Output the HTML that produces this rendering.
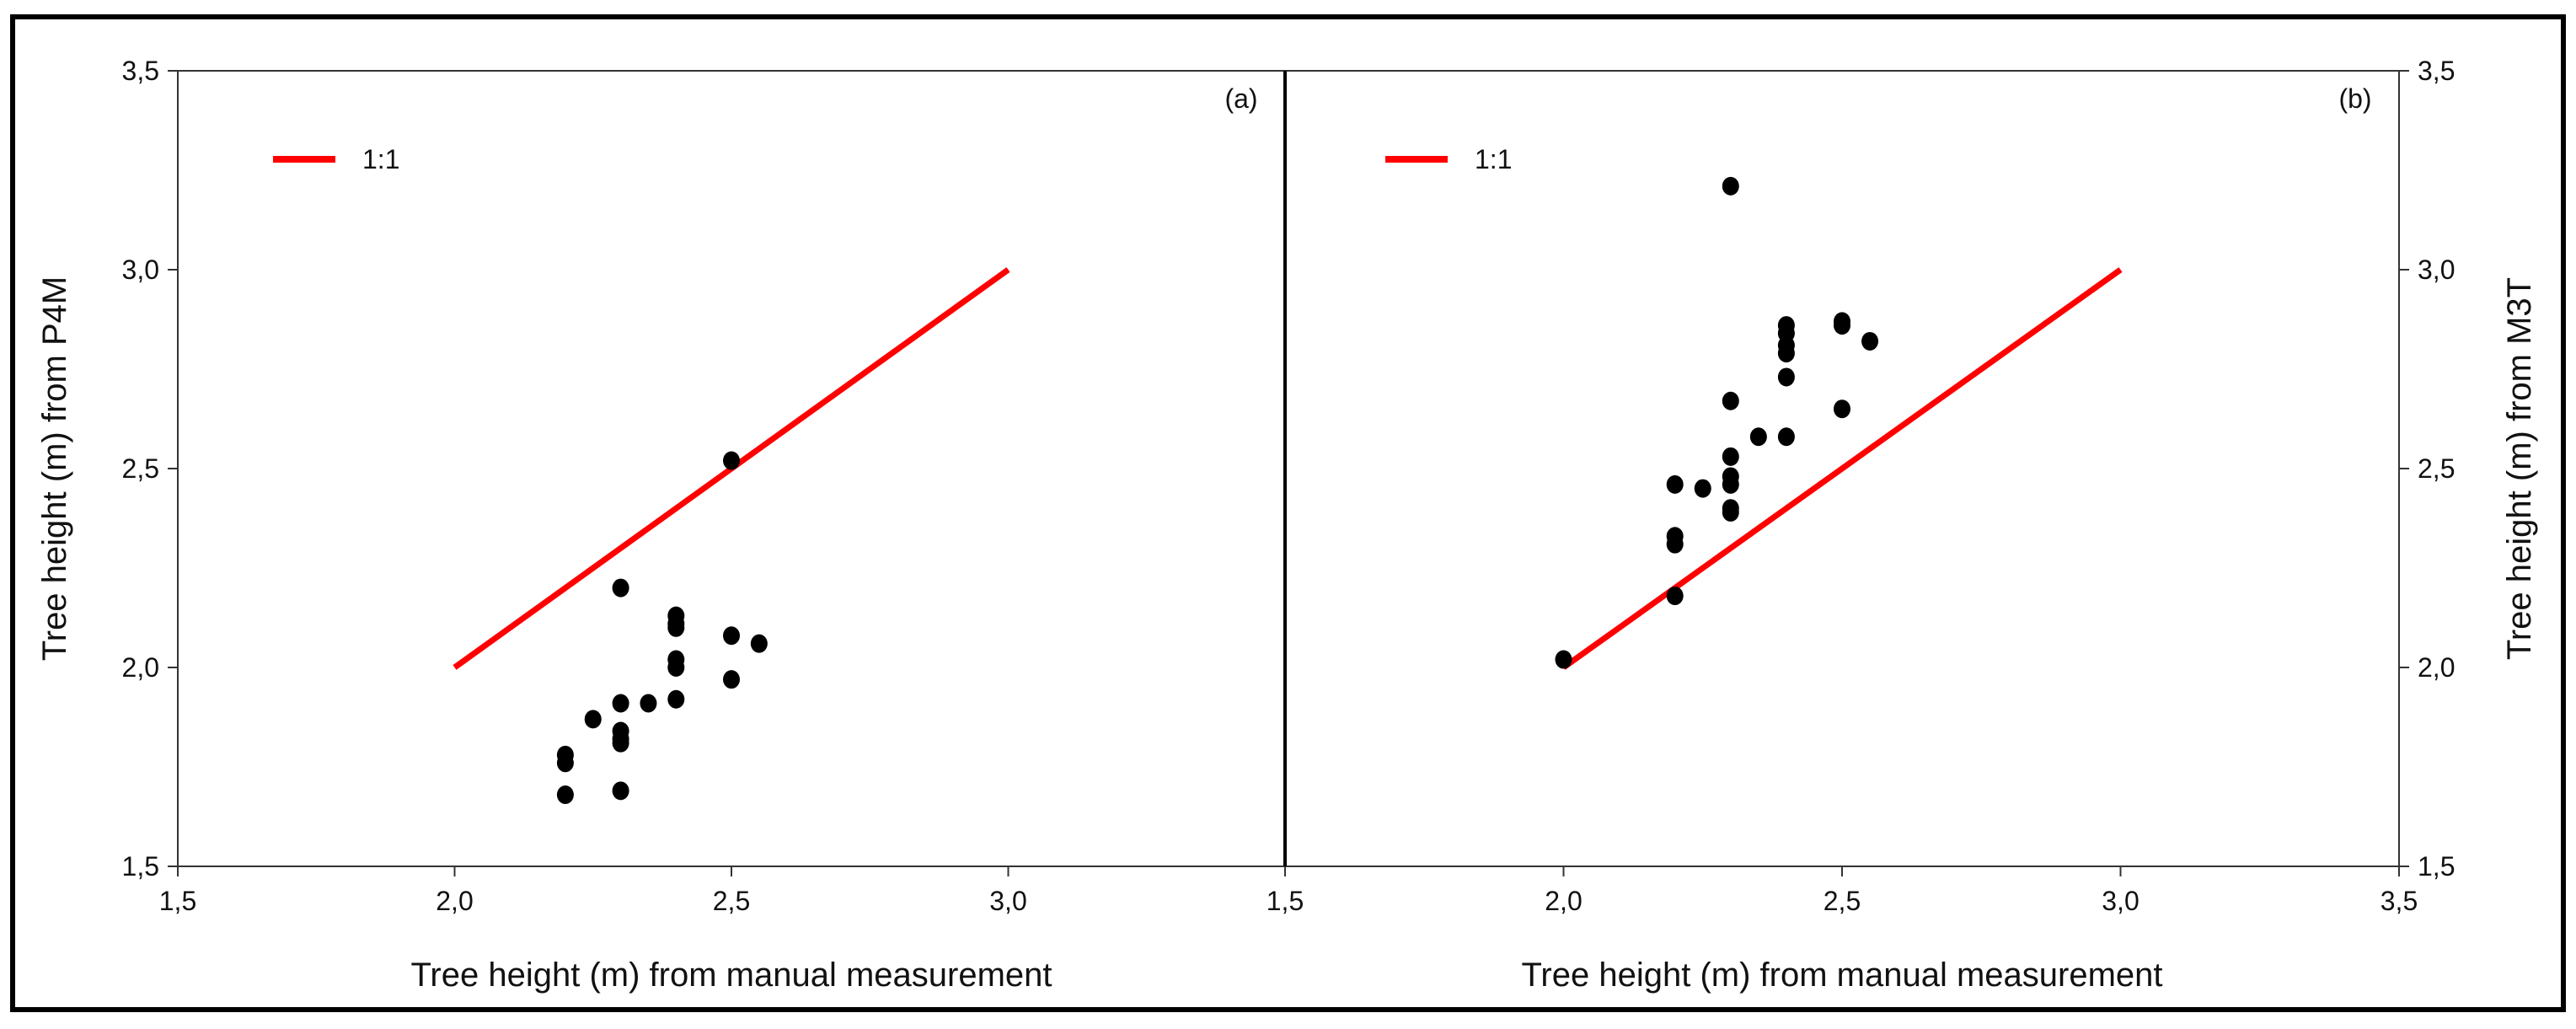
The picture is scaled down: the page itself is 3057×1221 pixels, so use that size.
<!DOCTYPE html>
<html><head><meta charset="utf-8"><style>
html,body{margin:0;padding:0;background:#fff;}
svg{display:block;font-family:"Liberation Sans",Arial,sans-serif;}
</style></head><body>
<svg id="chart" width="3057" height="1221" viewBox="0 0 3057 1221" xmlns="http://www.w3.org/2000/svg">
<rect x="0" y="0" width="3057" height="1221" fill="#fff"/>
<rect x="15" y="20" width="3027" height="1178" fill="none" stroke="#000" stroke-width="6"/>
<g id="g"></g>
</svg>
<script>
const xTicks = [1.5, 2.0, 2.5, 3.0, 3.5];
const yTicks = [1.5, 2.0, 2.5, 3.0, 3.5];
const tickLabels = ["1,5", "2,0", "2,5", "3,0", "3,5"];
const lineX = [2.0, 3.0];
const lineY = [2.0, 3.0];
const aX = [2.5,2.3,2.4,2.4,2.4,2.5,2.55,2.4,2.4,2.5,2.4,2.35,2.3,2.25,2.3,2.3,2.3,2.2,2.2,2.2,2.3];
const aY = [2.52,2.2,2.13,2.11,2.10,2.08,2.06,2.02,2.0,1.97,1.92,1.91,1.91,1.87,1.84,1.82,1.81,1.78,1.76,1.68,1.69];
const bX = [2.0,2.2,2.2,2.2,2.2,2.25,2.3,2.3,2.3,2.3,2.3,2.35,2.4,2.3,2.4,2.4,2.4,2.4,2.4,2.5,2.5,2.55,2.5,2.3];
const bY = [2.02,2.18,2.33,2.31,2.46,2.45,2.53,2.48,2.46,2.40,2.39,2.58,2.58,2.67,2.73,2.79,2.81,2.84,2.86,2.87,2.86,2.82,2.65,3.21];

const NS = "http://www.w3.org/2000/svg";
const g = document.getElementById('g');
function mk(tag, attrs, parent){const e=document.createElementNS(NS,tag);for(const k in attrs)e.setAttribute(k,attrs[k]);(parent||g).appendChild(e);return e;}
const plotTop=84, plotBottom=1028;
function yS(v){return plotBottom-(v-1.5)/2*(plotBottom-plotTop);}

function panel(id, x0, x1, xs, ys, label, yTitle, rightAxis, legX){
  const xS=v=>x0+(v-1.5)/2*(x1-x0);
  const grp=mk('g',{});
  
  
  const frame=mk('rect',{x:x0,y:plotTop,width:x1-x0,height:plotBottom-plotTop,fill:'none',stroke:'#333','stroke-width':2},grp);
  
  
  xTicks.forEach((t,i)=>{
    const x=xS(t);
    const tk=mk('line',{x1:x,x2:x,y1:plotBottom,y2:plotBottom+12,stroke:'#333','stroke-width':2},grp);
    
    
    if(!rightAxis && i===xTicks.length-1) return;
    const tl=mk('text',{x:x,y:1080,'font-size':32,'text-anchor':'middle',fill:'#111'},grp);
    tl.textContent=tickLabels[i];
    
    
  });
  yTicks.forEach((t,i)=>{
    const y=yS(t);
    const ax=rightAxis?x1:x0, d=rightAxis?12:-12;
    const tk=mk('line',{x1:ax,x2:ax+d,y1:y,y2:y,stroke:'#333','stroke-width':2},grp);
    
    
    const tl=mk('text',{x:rightAxis?ax+22:ax-22,y:y+11,'font-size':32,'text-anchor':rightAxis?'start':'end',fill:'#111'},grp);
    tl.textContent=tickLabels[i];
    
    
  });
  const ln=mk('line',{x1:xS(lineX[0]),y1:yS(lineY[0]),x2:xS(lineX[1]),y2:yS(lineY[1]),stroke:'#f00','stroke-width':7},grp);
  
  
  xs.forEach((v,i)=>{
    const c=mk('ellipse',{cx:xS(v),cy:yS(ys[i]),rx:10,ry:11,fill:'#000'},grp);
    
    
  });
  const lg=mk('line',{x1:legX,x2:legX+74,y1:189,y2:189,stroke:'#f00','stroke-width':8},grp);
  
  
  const lt=mk('text',{x:legX+106,y:200,'font-size':32,fill:'#111'},grp);
  lt.textContent='1:1';
  
  
  const pl=mk('text',{x:x1-52,y:128,'font-size':32,'text-anchor':'middle',fill:'#111'},grp);
  pl.textContent=label;
  
  
  const xt=mk('text',{x:(x0+x1)/2,y:1170,'font-size':40,'text-anchor':'middle',fill:'#111'},grp);
  xt.textContent='Tree height (m) from manual measurement';
  
  
  const tx=rightAxis?3003:78;
  const yt=mk('text',{x:tx,y:556,'font-size':40,'text-anchor':'middle',fill:'#111',transform:'rotate(-90 '+tx+' 556)'},grp);
  yt.textContent=yTitle;
  
  
}
panel('a',211,1525,aX,aY,'(a)','Tree height (m) from P4M',false,324);
panel('b',1525,2847,bX,bY,'(b)','Tree height (m) from M3T',true,1644);
const divider=mk('line',{x1:1525,x2:1525,y1:84,y2:1028,stroke:'#000','stroke-width':4});


</script>
</body></html>
